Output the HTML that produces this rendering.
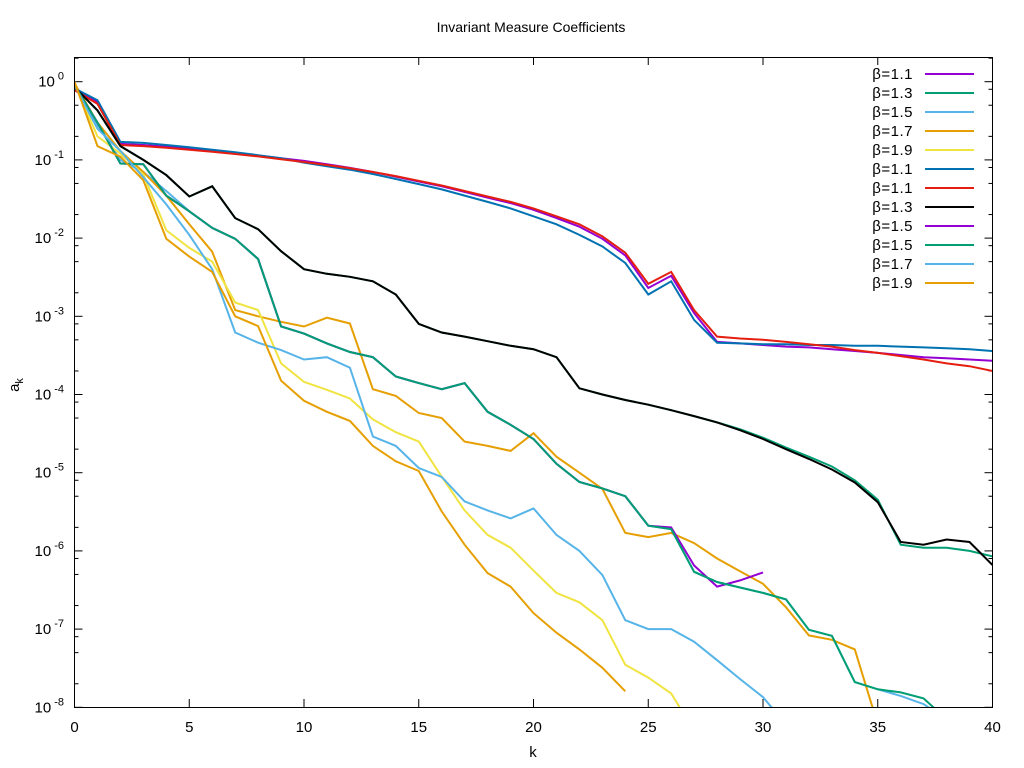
<!DOCTYPE html>
<html><head><meta charset="utf-8">
<style>
html,body{margin:0;padding:0;background:#fff;}
svg{display:block;font-family:"Liberation Sans",sans-serif;}
</style></head>
<body>
<svg id="chart" width="1024" height="768" viewBox="0 0 1024 768" xmlns="http://www.w3.org/2000/svg">
<rect width="1024" height="768" fill="#fff"/>
<text x="531" y="32" font-size="14" text-anchor="middle" fill="#000">Invariant Measure Coefficients</text>
<text x="533" y="757" font-size="15" text-anchor="middle" fill="#000">k</text>
<g transform="translate(19,385) rotate(-90)"><text font-size="15" text-anchor="middle" fill="#000">a<tspan font-size="11" dy="4">k</tspan></text></g>
<defs><clipPath id="plotclip"><rect x="75" y="57" width="917" height="650"/></clipPath></defs>
<g id="axes"></g>
<g id="series" clip-path="url(#plotclip)"></g>
<g id="legend"></g>
<rect x="74.5" y="57.5" width="918" height="650" fill="none" stroke="#000" stroke-width="1"/>
</svg>
<script>
const xTicks = [0,5,10,15,20,25,30,35,40];
const yTickExps = [0,-1,-2,-3,-4,-5,-6,-7,-8];
const minorMultipliers = [2,5,8];
const legendLabels = ["β=1.1","β=1.3","β=1.5","β=1.7","β=1.9","β=1.1","β=1.1","β=1.3","β=1.5","β=1.5","β=1.7","β=1.9"];
const seriesColors = ["#9400d3","#009e73","#56b4e9","#e69f00","#f0e442","#0072b2","#e51e10","#000000","#9400d3","#009e73","#56b4e9","#e69f00"];

const s1_purple11 = [0.8,0.55,0.16,0.155,0.148,0.14,0.132,0.123,0.114,0.105,0.097,0.088,0.079,0.07,0.061,0.053,0.046,0.039,0.033,0.028,0.023,0.018,0.014,0.0098,0.006,0.0023,0.0033,0.0011,0.00047,0.00045,0.00043,0.00041,0.0004,0.00038,0.00036,0.00034,0.00032,0.0003,0.00029,0.00028,0.00027];
const s2_green13 = [0.85,0.43,0.15,0.1,0.064,0.034,0.046,0.018,0.013,0.0068,0.004,0.0035,0.0032,0.0028,0.0019,0.0008,0.00062,0.00055,0.00048,0.00042,0.00038,0.0003,0.00012,0.0001,0.000085,0.000074,0.000063,0.000053,0.000044,0.000036,0.000028,0.000021,0.000016,0.000012,0.000008,0.0000045,0.0000012,0.0000011,0.0000011,0.000001,0.00000085];
const s3_lblue15 = [0.9,0.28,0.1,0.07,0.04,0.022,0.0135,0.0098,0.0054,0.00074,0.0006,0.00045,0.00035,0.0003,0.00017,0.00014,0.000117,0.00014,0.00006,0.000041,0.000027,0.000013,0.0000076,0.0000063,0.000005,0.0000021,0.0000019,0.00000054,0.0000004,0.00000034,0.00000029,0.00000024,0.000000098,0.000000082,0.000000021,0.000000017,0.000000014,0.000000011,0.000000007,0.000000005,0.000000004];
const s4_orange17 = [0.95,0.3,0.13,0.07,0.035,0.015,0.0067,0.0012,0.001,0.00085,0.00074,0.00096,0.00081,0.000117,0.000096,0.000058,0.00005,0.000025,0.000022,0.000019,0.000032,0.000016,0.00001,0.0000062,0.0000017,0.0000015,0.0000017,0.00000126,0.0000008,0.00000055,0.00000038,0.00000019,0.000000083,0.000000073,0.000000055,0.000000006,0.000000003,0.000000002,0.000000001,0.000000001,0.000000001];
const s5_yellow19 = [0.95,0.2,0.12,0.065,0.0126,0.0075,0.005,0.0015,0.0012,0.00025,0.000145,0.000115,0.000089,0.000048,0.000033,0.000025,0.0000089,0.0000033,0.0000016,0.0000011,0.00000056,0.00000029,0.00000022,0.00000013,0.000000035,0.000000024,0.000000015,0.000000005,0.000000002];
const s6_blue11 = [0.82,0.58,0.17,0.165,0.155,0.145,0.135,0.125,0.115,0.105,0.092,0.083,0.075,0.066,0.057,0.049,0.042,0.035,0.029,0.024,0.019,0.015,0.011,0.0078,0.0048,0.0019,0.0028,0.0009,0.00046,0.00045,0.00044,0.00044,0.00043,0.00043,0.00042,0.00042,0.00041,0.0004,0.00039,0.00038,0.00036];
const s7_red11 = [0.78,0.52,0.155,0.15,0.143,0.135,0.127,0.119,0.111,0.102,0.094,0.086,0.078,0.07,0.062,0.054,0.047,0.04,0.034,0.029,0.024,0.019,0.015,0.0105,0.0065,0.0026,0.0037,0.0012,0.00055,0.00052,0.0005,0.00047,0.00044,0.00041,0.00037,0.00034,0.00031,0.00028,0.00025,0.00023,0.0002];
const s8_black13 = [0.85,0.43,0.15,0.1,0.064,0.034,0.046,0.018,0.013,0.0068,0.004,0.0035,0.0032,0.0028,0.0019,0.0008,0.00062,0.00055,0.00048,0.00042,0.00038,0.0003,0.00012,0.0001,0.000085,0.000074,0.000063,0.000053,0.000044,0.000035,0.000027,0.00002,0.000015,0.000011,0.0000075,0.0000042,0.0000013,0.0000012,0.0000014,0.0000013,0.00000066];
const s9_purple15 = [0.9,0.3,0.09,0.088,0.035,0.022,0.0135,0.0098,0.0054,0.00074,0.0006,0.00045,0.00035,0.0003,0.00017,0.00014,0.000117,0.00014,0.00006,0.000041,0.000027,0.000013,0.0000076,0.0000063,0.000005,0.0000021,0.000002,0.00000065,0.00000035,0.00000042,0.00000053];
const s10_green15 = [0.9,0.3,0.09,0.088,0.035,0.022,0.0135,0.0098,0.0054,0.00074,0.0006,0.00045,0.00035,0.0003,0.00017,0.00014,0.000117,0.00014,0.00006,0.000041,0.000027,0.000013,0.0000076,0.0000063,0.000005,0.0000021,0.0000019,0.00000054,0.0000004,0.00000034,0.00000029,0.00000024,0.000000098,0.000000082,0.000000021,0.000000017,0.0000000155,0.000000013,0.000000007,0.000000005,0.000000004];
const s11_lblue17 = [0.9,0.25,0.13,0.06,0.027,0.011,0.004,0.00062,0.00046,0.00037,0.00028,0.0003,0.00022,0.000029,0.000022,0.0000115,0.0000088,0.0000043,0.0000033,0.0000026,0.0000035,0.0000016,0.000001,0.00000049,0.00000013,0.0000001,0.0000001,0.000000069,0.00000004,0.000000023,0.0000000135,0.000000006];
const s12_orange19 = [1.0,0.15,0.11,0.055,0.0098,0.0058,0.0037,0.001,0.00075,0.00015,0.000083,0.00006,0.000046,0.000022,0.000014,0.0000105,0.0000032,0.0000012,0.00000052,0.00000035,0.00000016,0.00000009,0.000000055,0.000000032,0.000000016];

const allSeries = [s1_purple11,s2_green13,s3_lblue15,s4_orange17,s5_yellow19,s6_blue11,s7_red11,s8_black13,s9_purple15,s10_green15,s11_lblue17,s12_orange19];

const X0=74.5, X1=992.5, YTOP=81.7, DEC=78.2;
function xScale(k){return X0 + (X1-X0)*k/40;}
function yScale(v){return YTOP - DEC*Math.log10(v);}
const NS="http://www.w3.org/2000/svg";
function mk(tag,attrs,parent){const e=document.createElementNS(NS,tag);for(const a in attrs)e.setAttribute(a,attrs[a]);parent.appendChild(e);return e;}

const axes=document.getElementById('axes');
xTicks.forEach(t=>{
  const x=xScale(t);
  const tb=mk('line',{x1:x,x2:x,y1:707,y2:699,stroke:'#000','stroke-width':1},axes);
  
  
  const tt=mk('line',{x1:x,x2:x,y1:57,y2:65,stroke:'#000','stroke-width':1},axes);
  
  
  const lb=mk('text',{x:x,y:732,'font-size':15,'text-anchor':'middle',fill:'#000'},axes);
  lb.textContent=String(t);
  
  
});
yTickExps.forEach(e=>{
  const y=yScale(Math.pow(10,e));
  [[74.5,82.5],[992.5,984.5]].forEach(([a,b],i)=>{
    const tl=mk('line',{x1:a,x2:b,y1:y,y2:y,stroke:'#000','stroke-width':1},axes);
    
    
  });
  const lb=mk('text',{x:64,y:y+5,'font-size':15,'text-anchor':'end',fill:'#000'},axes);
  
  
  lb.textContent='10';
  const sp=mk('tspan',{'font-size':11,dy:-7,dx:3},lb);
  sp.textContent=(e===0?'0':String(e));
  minorMultipliers.forEach(m=>{
    [e, e-1].forEach(base=>{
      const v=m*Math.pow(10,base);
      if(base!==e-1 && base!==0) return;
      if(base<-8) return;
      const yy=yScale(v);
      if(yy<57||yy>707) return;
      [[74.5,78.5],[992.5,988.5]].forEach(([a,b])=>{
        const ml=mk('line',{x1:a,x2:b,y1:yy,y2:yy,stroke:'#000','stroke-width':1},axes);
        
        
      });
    });
  });
});

const sg=document.getElementById('series');
const lg=document.getElementById('legend');
allSeries.forEach((vals,i)=>{
  const pts=vals.map((v,k)=>xScale(k).toFixed(1)+','+yScale(v).toFixed(1)).join(' ');
  const pl=mk('polyline',{points:pts,fill:'none',stroke:seriesColors[i],'stroke-width':2,'stroke-linejoin':'miter'},sg);
  
  
  const y=74+19*i;
  const t=mk('text',{x:913,y:y+5,'font-size':15,'text-anchor':'end',fill:'#000','letter-spacing':'0.5'},lg);
  t.textContent=legendLabels[i];
  
  
  const ln=mk('line',{x1:925,x2:974,y1:y,y2:y,stroke:seriesColors[i],'stroke-width':2},lg);
  
  
});
</script>
</body></html>
